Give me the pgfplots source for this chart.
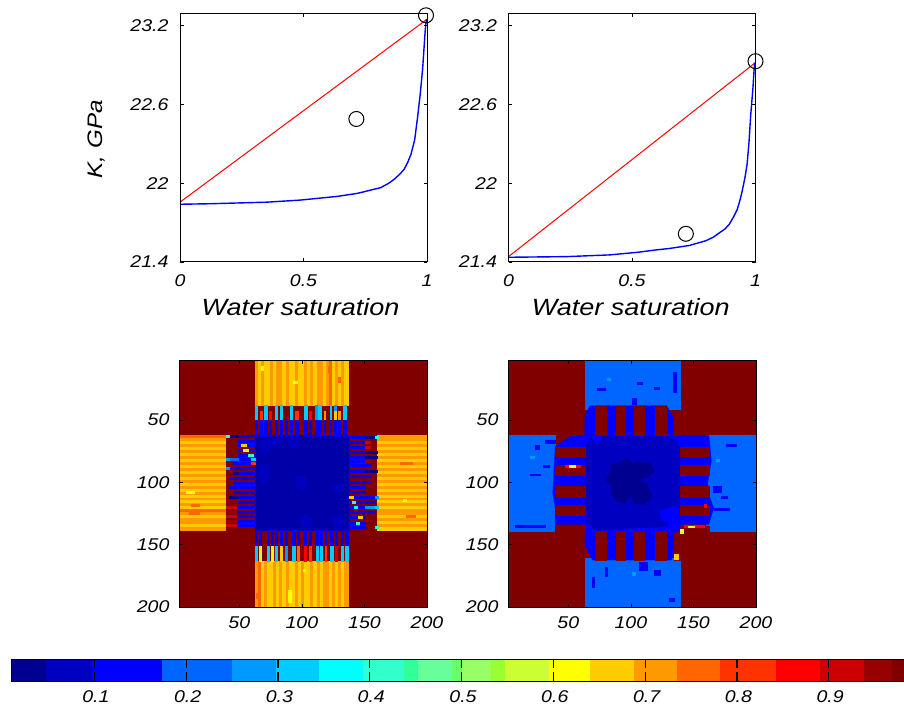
\documentclass[border=0pt]{standalone}
\usepackage{pgfplots}
\pgfplotsset{compat=1.18}
\usepackage{fontspec}
\setmainfont{Liberation Sans}[FakeStretch=1.15]
\definecolor{cN}{HTML}{000090}
\definecolor{cM}{HTML}{0000C0}
\definecolor{cL}{HTML}{0000A8}
\definecolor{cB}{HTML}{0000FF}
\definecolor{cS}{HTML}{0066FF}
\definecolor{cT}{HTML}{0099FF}
\definecolor{cU}{HTML}{00CCFF}
\definecolor{cC}{HTML}{00FFFF}
\definecolor{cQ}{HTML}{33FFCC}
\definecolor{cW}{HTML}{33FF99}
\definecolor{cX}{HTML}{66FF99}
\definecolor{cZ}{HTML}{66FF66}
\definecolor{cV}{HTML}{99FF66}
\definecolor{cJ}{HTML}{99FF33}
\definecolor{cK}{HTML}{CCFF33}
\definecolor{cG}{HTML}{FFFF00}
\definecolor{cY}{HTML}{FFCC00}
\definecolor{cA}{HTML}{FF9900}
\definecolor{cO}{HTML}{FF6600}
\definecolor{cE}{HTML}{FF3300}
\definecolor{cR}{HTML}{FF0000}
\definecolor{cF}{HTML}{CC0000}
\definecolor{cH}{HTML}{990000}
\definecolor{cD}{HTML}{800000}
\newcommand\tf{\fontsize{17}{19}\selectfont\itshape}
\newcommand\lf{\fontsize{23.5}{26}\selectfont\itshape}
\newcommand\yf{\fontsize{21}{24}\selectfont\itshape}
\newcommand\R[5]{\addplot[draw=#1,line width=0.15pt,fill=#1] coordinates {(#2,#4)(#3,#4)(#3,#5)(#2,#5)} --cycle;}
\newcommand\PG[2]{\addplot[draw=#1,line width=0.15pt,fill=#1] coordinates {#2} --cycle;}
% vertical stripes: y0 y1 width, list x/colour
\newcommand\Vs[4]{\foreach \a/\c in {#4}{\pgfmathsetmacro\b{\a+#3}\edef\t{\noexpand\R{\c}{\a}{\b}{#1}{#2}}\t}}
% horizontal stripes: x0 x1 height, list y/colour
\newcommand\Hs[4]{\foreach \a/\c in {#4}{\pgfmathsetmacro\b{\a+#3}\edef\t{\noexpand\R{\c}{#1}{#2}{\a}{\b}}\t}}
% teeth: y0 y1, list x0/x1/colour
\newcommand\Vt[3]{\foreach \a/\b/\c in {#3}{\edef\t{\noexpand\R{\c}{\a}{\b}{#1}{#2}}\t}}
\newcommand\Ht[3]{\foreach \a/\b/\c in {#3}{\edef\t{\noexpand\R{\c}{#1}{#2}{\a}{\b}}\t}}
\pgfplotsset{
 base/.style={scale only axis,axis on top,axis line style={line width=1pt,black},
  tick style={black,line width=0.7pt},major tick length=3.5pt,
  tick label style={font=\tf},/pgf/number format/assume math mode=true,
  /pgf/number format/1000 sep={}},
 top/.style={base,width=247pt,height=248pt,xmin=0,xmax=1,ymin=21.4,ymax=23.29,
  xtick={0,0.5,1},ytick={21.4,22,22.6,23.2},clip=false,
  xticklabel style={yshift=-9pt},yticklabel style={xshift=-8pt},
  xlabel style={font=\lf,anchor=center},
  ylabel style={font=\yf,anchor=center}},
 map/.style={base,width=248pt,height=247pt,xmin=1.8,xmax=200,ymin=1.8,ymax=200,y dir=reverse,
  xtick={50,100,150,200},ytick={50,100,150,200},
  xticklabel style={yshift=-6pt},yticklabel style={xshift=-6pt},
  x filter/.expression={1.8+0.991*x},y filter/.expression={1.8+0.991*y}},
}
\begin{document}
\begin{tikzpicture}[x=1pt,y=1pt]
\useasboundingbox (0,0) rectangle (904,707);

% ---------- top left
\begin{axis}[top,at={(180pt,445pt)},anchor=south west,
  xlabel={Water saturation},ylabel={K, GPa},
  xlabel style={at={(axis description cs:0.488,-0.182)}},
  ylabel style={at={(axis description cs:-0.34,0.495)}}]
\addplot[red,line width=1pt] coordinates {(0,21.856)(1,23.25)};
\addplot[blue,line width=1.4pt] coordinates {(0,21.84)(0.122,21.844)(0.352,21.856)(0.488,21.872)(0.637,21.90)(0.718,21.923)(0.813,21.967)(0.845,22.0)(0.867,22.03)(0.89,22.07)(0.908,22.108)(0.922,22.16)(0.935,22.22)(0.95,22.33)(0.962,22.505)(0.972,22.67)(0.982,22.864)(0.992,23.146)(0.997,23.25)};
\addplot[only marks,mark=o,mark size=7.5pt,black,mark options={line width=1pt}] coordinates {(0.714,22.49)(0.996,23.28)};
\end{axis}

% ---------- top right
\begin{axis}[top,at={(508.5pt,445pt)},anchor=south west,
  xlabel={Water saturation},
  xlabel style={at={(axis description cs:0.495,-0.182)}}]
\addplot[red,line width=1pt] coordinates {(0,21.441)(1,22.92)};
\addplot[blue,line width=1.4pt] coordinates {(0,21.436)(0.235,21.441)(0.409,21.454)(0.523,21.474)(0.597,21.492)(0.651,21.503)(0.732,21.526)(0.799,21.562)(0.83,21.59)(0.852,21.62)(0.875,21.65)(0.893,21.685)(0.91,21.74)(0.926,21.80)(0.937,21.87)(0.946,21.94)(0.957,22.04)(0.966,22.146)(0.974,22.32)(0.98,22.505)(0.985,22.62)(0.99,22.736)(0.996,22.92)};
\addplot[only marks,mark=o,mark size=7.5pt,black,mark options={line width=1pt}] coordinates {(0.718,21.615)(1,22.93)};
\end{axis}

% ---------- bottom left map
\begin{axis}[map,at={(179pt,100pt)},anchor=south west]
\R{cD}{0}{200}{0}{200}
% arms, top
\Vs{0}{36.5}{2.6}{61/cA,63.5/cY,66/cA,68.5/cY,71/cY,73.5/cA,76/cY,78.5/cA,81/cA,83.5/cY,86/cA,88.5/cY,91/cY,93.5/cA,96/cY,98.5/cY,101/cA,103.5/cY,106/cA,108.5/cY,111/cA,113.5/cA,116/cY,118.5/cA,121/cO,123.5/cY,126/cA,128.5/cY,131/cA,133.5/cY}
% arms, bottom
\Vs{162.5}{200}{2.6}{61/cA,63.5/cO,66/cY,68.5/cA,71/cY,73.5/cY,76/cA,78.5/cY,81/cA,83.5/cY,86/cA,88.5/cY,91/cY,93.5/cA,96/cY,98.5/cA,101/cY,103.5/cY,106/cA,108.5/cY,111/cA,113.5/cY,116/cA,118.5/cA,121/cY,123.5/cA,126/cY,128.5/cA,131/cY,133.5/cA}
% arms, left
\Hs{0.5}{37.5}{2.6}{61/cO,63.4/cA,65.8/cY,68.2/cA,70.6/cY,73/cA,75.4/cY,77.8/cA,80.2/cY,82.6/cA,85/cY,87.4/cA,89.8/cY,92.2/cA,94.6/cY,97/cA,99.4/cY,101.8/cA,104.2/cY,106.6/cA,109/cY,111.4/cA,113.8/cY,116.2/cA,118.6/cY,121/cO,123.4/cA,125.8/cY,128.2/cA,130.6/cA,133/cY,135.4/cA}
% arms, right
\Hs{160}{199.5}{2.6}{61/cA,63.4/cA,65.8/cY,68.2/cA,70.6/cY,73/cA,75.4/cY,77.8/cA,80.2/cY,82.6/cA,85/cY,87.4/cA,89.8/cY,92.2/cA,94.6/cY,97/cA,99.4/cY,101.8/cA,104.2/cY,106.6/cA,109/cY,111.4/cA,113.8/cY,116.2/cA,118.6/cY,121/cA,123.4/cA,125.8/cY,128.2/cA,130.6/cY,133/cA,135.4/cY}
% bright spots in the arms
\R{cG}{92}{95}{17}{19}\R{cG}{66}{68}{5}{8}\R{cO}{120}{122}{5}{10}\R{cO}{128}{130}{14}{18}
\R{cG}{88}{90.5}{186}{196}\R{cG}{100}{102}{169}{171}\R{cO}{62}{65}{189}{193}
\R{cG}{6}{12}{106}{108}\R{cO}{8}{16}{123.4}{125}\R{cO}{10}{16}{116.4}{118}
\R{cG}{181}{183}{112.5}{114}\R{cO}{183}{190}{125.8}{127}\R{cO}{178}{188}{82.6}{84}
% centre
\R{cL}{61}{137}{61}{138}
\PG{cM}{(65,66)(72,62)(82,64)(84,68)(74,72)(69,78)}
\PG{cM}{(87,62)(95,62)(98,70)(90,72)}
\PG{cM}{(65,85)(72,85)(73,94)(70,100)(64,99)}
\PG{cM}{(94,93)(102,95)(104,102)(98,106)(94,100)}
\PG{cM}{(124,100)(132,102)(130,107)(125,106)}
\PG{cM}{(97,128)(102,125)(108,128)(106,136)(100,136)}
\PG{cM}{(124,127)(132,125)(134,133)(128,137)(124,133)}
% top teeth
\Vt{48}{61.5}{61.3/63.1/cB,65.3/67/cB,68.8/70.7/cB,72.9/74.5/cB,77.7/79.4/cB,81.5/83.1/cB,85.8/87.4/cB,89.6/91.2/cB,93.9/96/cB,101.2/103.1/cB,104.7/106.3/cB,109.6/111.2/cB,112.5/114.4/cB,116.6/118.2/cB,121.5/123/cB,124.7/126.3/cB,128.2/130/cB,132.5/134.4/cB}
\Vt{36.5}{48}{61.3/63.1/cU,68.8/70.7/cU,77.7/79.4/cU,81.5/83.1/cU,89.6/91.2/cU,101.2/103.1/cU,109.6/111.2/cT,112.5/114.4/cU,121.5/123/cU,124.7/126.3/cT,132.5/134.4/cU}
\Vt{41}{48}{65.3/67/cE,72.9/74.5/cR,93.9/96/cE,104.7/106.3/cR,116.6/118.2/cA,124.7/126.3/cY,128.2/130/cA}
% bottom teeth
\Vt{138}{150.5}{61.3/63/cB,64.7/66.3/cB,70.7/72.3/cB,74.5/76.1/cB,77.8/79.4/cB,81.8/83.1/cB,85.8/87.4/cB,91.2/93.3/cB,95.5/97.1/cB,100.6/102.2/cB,104.7/106.3/cB,110.4/112/cB,113.4/115.2/cB,117.4/119/cB,122.2/124.3/cB,125.5/127.1/cB,130.8/132.4/cB,134/136.2/cB}
\Vt{150.5}{162.5}{61.3/63/cU,64.7/66.3/cK,70.7/72.3/cU,74.5/76.1/cG,77.8/79.4/cU,81.8/83.1/cY,85.8/87.4/cT,91.2/93.3/cU,95.5/97.1/cO,100.6/102.2/cR,104.7/106.3/cE,110.4/112/cU,113.4/115.2/cU,117.4/119/cE,122.2/124.3/cU,125.5/127.1/cF,130.8/132.4/cU,134/136.2/cU}
% left teeth
\Hs{48}{61.5}{1.6}{60.7/cB,64.5/cB,68.3/cB,72.1/cB,75.8/cB,79.4/cB,82.9/cB,86.9/cB,91/cB,95/cB,98.5/cB,102.3/cB,106.1/cB,109.9/cB,113.9/cB,118/cB,122/cB,125.5/cB,129.3/cB,133.1/cB}
\Ht{40}{48}{60.7/62.3/cN,79.4/81/cS,86.9/88.5/cB,95/96.6/cB,102.3/103.9/cB,109.9/111.5/cN}
\Ht{44}{48}{82.9/84.5/cB,91/92.6/cN,98.5/100.1/cB,106.1/107.7/cB}
\Ht{38}{46}{118/119.6/cF,122/123.6/cH,125.5/127.1/cF,129.3/130.9/cH,133.1/134.7/cF}
\Ht{38}{40}{60.7/62.3/cQ,79.4/81/cT,86.9/88.5/cT}
\Ht{50}{54}{68.3/69.9/cY}
\Ht{52}{56}{72.1/73.7/cK}
\Ht{56}{60}{75.8/77.4/cQ}
\Ht{58}{61.5}{79.4/81/cU,82.9/84.5/cE}
% right teeth
\Hs{137}{150}{1.6}{61.3/cB,65.9/cB,69.4/cB,73.4/cB,77.5/cB,80.7/cB,84.2/cB,89.1/cB,93.1/cB,98.2/cB,101.8/cB,105.8/cB,109.9/cB,113.9/cB,118.5/cB,122.6/cB,126.6/cB,130.9/cB,134.7/cB}
\Ht{150}{159.5}{61.3/62.9/cN,73.4/75/cN,77.5/79.1/cN,89.1/90.7/cN}
\Ht{150}{154}{65.9/67.5/cF,69.4/71/cF,80.7/82.3/cH,84.2/85.8/cB,93.1/94.7/cB,98.2/99.8/cB}
\Ht{150}{158}{109.9/111.5/cB,113.9/115.5/cB,118.5/120.1/cT,122.6/124.2/cB}
\Ht{158}{160.5}{61.3/62.9/cQ,109.9/111.5/cT,118.5/120.1/cU,134.7/136.3/cQ}
\Ht{137.5}{140}{109.9/111.5/cY}
\Ht{139.5}{142}{113.9/115.5/cQ}
\Ht{141.5}{144}{118.5/120.1/cC}
\Ht{144.5}{147.5}{126.6/128.2/cY}
\Ht{142.5}{145}{130.9/132.5/cQ}
\end{axis}

% ---------- bottom right map
\begin{axis}[map,at={(508pt,100pt)},anchor=south west]
\R{cD}{0}{200}{0}{200}
% arms
\R{cS}{61.8}{139}{0}{40}
\R{cS}{61.8}{139}{160}{200}
\R{cS}{0}{38.3}{61}{138.2}
\R{cS}{160}{200}{61}{138.2}
% blue ring
\PG{cB}{(66,37)(128,37)(134,48)(134,61)(139,61)(139,61)(162,61)(163,70)(164,82)(161,100)(163,112)(166,120)(162,133)(139,133)(139,138)(134,140)(134,152)(132,162)(68,162)(62,150)(62,133)(38,133)(38,120)(36,108)(38,70)(50,62)(61.8,61)(62,45)}
% dark red corner extensions
\R{cD}{134}{139}{45}{61}
\R{cD}{134}{139}{140}{162}
\R{cD}{38}{61.8}{133.6}{138.2}
\R{cD}{145}{162}{134.5}{138.2}
% centre
\PG{cM}{(68,62)(132,62)(139,70)(139,118)(132,124)(128,135)(70,138)(62,130)(62,70)}
\PG{cB}{(122,122)(135,118)(138,126)(132,132)(124,130)}
\PG{cB}{(68,62)(74,60)(76,65)(70,68)}
% central darker blob
\PG{cN}{(82.6,85)(88,83.7)(90.7,81.8)(97.4,79.6)(100.1,83.7)(105.5,82.3)(115,83.7)(118.2,90.4)(112.3,95)(105.5,97.2)(112.3,99.9)(116.3,110.7)(109.6,117.4)(101.5,116)(98.8,109.3)(94.7,116)(88,114.7)(82.6,108)(83.9,101.2)(78.6,97.2)(82.6,91.7)}
% teeth
\Vt{37}{61}{70.2/78.8/cD,86.9/94.2/cD,102/110.1/cD,118.8/127.4/cD}
\Vt{138.2}{162}{70.2/78.8/cD,86.9/94.2/cD,102/110.1/cD,118.8/127.4/cD}
\Ht{38.3}{61.8}{70.7/77.7/cD,85/93.4/cD,101.8/110.1/cD,117.4/125.8/cD}
\Ht{139}{162.2}{70.7/77.7/cD,85/93.4/cD,101.8/110.1/cD,117.4/125.8/cD}
% small blue and bright spots in the arms
\R{cB}{72}{78}{23}{24.5}\R{cB}{100}{103}{31}{36}\R{cB}{118}{122}{22}{23.5}\R{cB}{104}{108}{18}{19.5}\R{cB}{133.5}{135.5}{10}{26}
\R{cB}{78}{80}{168}{175}\R{cB}{68}{69.5}{176}{184}\R{cB}{106}{112}{164}{170}\R{cB}{118}{123}{170}{174}\R{cB}{130}{134}{193}{195}
\R{cB}{22}{25}{69}{72}\R{cB}{18}{26}{92}{93.5}\R{cB}{28}{33}{85}{86.5}\R{cB}{6}{30}{134}{135.5}\R{cB}{30}{38}{65}{67}
\R{cB}{176}{184}{68}{69.5}\R{cB}{166}{178}{120}{121.5}\R{cB}{172}{177}{110}{112}\R{cB}{165}{172}{102}{107}
\R{cT}{18}{21}{78}{79.5}\R{cT}{80}{82.5}{15}{16.5}\R{cT}{100}{102.5}{172}{174}\R{cT}{168}{170.5}{80}{81.5}
% bright streaks
\R{cR}{46}{58}{85}{86.8}\R{cG}{49}{54}{85.3}{86.4}
\R{cR}{142}{158}{134}{135.5}\R{cG}{145}{150}{134.2}{135.3}\R{cG}{139}{141}{137}{140}
\R{cR}{158}{160}{117}{119}\R{cY}{134}{137}{157}{161}
\end{axis}

% ---------- colour bar
\begin{axis}[base,at={(12pt,25.7pt)},anchor=south west,width=895pt,height=22pt,
  xmin=0.0103,xmax=0.9853,ymin=0,ymax=1,ytick=\empty,
  xtick={0.1,0.2,0.3,0.4,0.5,0.6,0.7,0.8,0.9},major tick length=9pt,
  tick style={black,line width=1.2pt},
  xticklabel style={yshift=-6pt,xshift=1.5pt},
  xticklabels={0.1,0.2,0.3,0.4,0.5,0.6,0.7,0.8,0.9}]
\R{cN}{0.0103}{0.0474}{0}{1}
\R{cM}{0.0474}{0.0975}{0}{1}
\R{cB}{0.0975}{0.1737}{0}{1}
\R{cS}{0.1737}{0.25}{0}{1}
\R{cT}{0.25}{0.298}{0}{1}
\R{cU}{0.298}{0.3448}{0}{1}
\R{cC}{0.3448}{0.3927}{0}{1}
\R{cQ}{0.3927}{0.4373}{0}{1}
\R{cW}{0.4373}{0.4526}{0}{1}
\R{cX}{0.4526}{0.4897}{0}{1}
\R{cZ}{0.4897}{0.5005}{0}{1}
\R{cV}{0.5005}{0.5322}{0}{1}
\R{cJ}{0.5322}{0.5474}{0}{1}
\R{cK}{0.5474}{0.5953}{0}{1}
\R{cG}{0.5953}{0.64}{0}{1}
\R{cY}{0.64}{0.6879}{0}{1}
\R{cA}{0.6879}{0.7347}{0}{1}
\R{cO}{0.7347}{0.7816}{0}{1}
\R{cE}{0.7816}{0.8426}{0}{1}
\R{cR}{0.8426}{0.8905}{0}{1}
\R{cF}{0.8905}{0.9384}{0}{1}
\R{cH}{0.9384}{0.9689}{0}{1}
\R{cD}{0.9689}{0.9853}{0}{1}
\end{axis}
\end{tikzpicture}
\end{document}
